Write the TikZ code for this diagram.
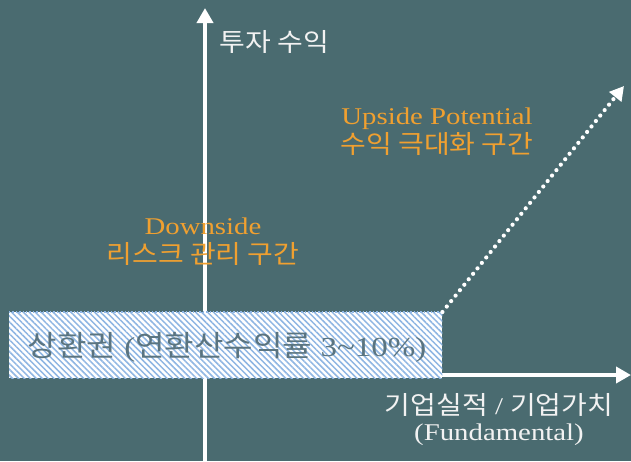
\documentclass[tikz,border=0pt]{standalone}
\usepackage{fontspec}
\setmainfont{Liberation Serif}[FakeStretch=1.2]
\newfontfamily\kr{Noto Sans CJK KR}[FakeStretch=1.1,Scale=1.06]
\usetikzlibrary{arrows.meta,patterns.meta}
\definecolor{bg}{HTML}{4A6B70}
\definecolor{orng}{HTML}{F0A030}
\definecolor{hatch}{HTML}{8FB6E3}
\definecolor{boxtxt}{HTML}{5A7480}
\definecolor{lbl}{HTML}{F2F2F2}
\tikzset{
  axis/.style={draw=white, line width=4pt, -{Triangle[length=15pt,width=16pt]}},
  dotarrow/.style={draw=white, line width=4.2pt, line cap=round, dash pattern=on 0pt off 7pt, -{Triangle[length=14pt,width=15pt]}},
  orlabel/.style={text=orng, align=center, font=\fontsize{24}{29}\selectfont},
  axlabel/.style={text=lbl, align=center, font=\fontsize{24}{26}\selectfont},
}
\begin{document}
\begin{tikzpicture}[x=1pt,y=-1pt]
\fill[bg] (0,0) rectangle (631,461);
\useasboundingbox (0,0) rectangle (631,461);
% axes
\coordinate (vb) at (205,461);
\coordinate (vt) at (205,8);
\coordinate (hl) at (10,375);
\coordinate (hr) at (631,375);
\draw[axis] (vb) -- (vt);
\draw[axis] (hl) -- (hr);
% hatched box
\node[anchor=north west, minimum width=433pt, minimum height=66pt, inner sep=0pt, fill=white] (box) at (9,312) {};
\fill[pattern={Lines[angle=-45,distance=4.2pt,line width=1.5pt]}, pattern color=hatch] (box.north west) rectangle (box.south east);
\draw[hatch, line width=1.4pt, dotted] (box.north west) -- (box.north east);
\node[text=boxtxt, font=\fontsize{27.5}{30}\selectfont, anchor=west] (boxlbl) at (24,347) {{\kr 상환권} ({\kr 연환산수익률} 3\textasciitilde 10\%)};
% dotted arrow
\coordinate (dend) at (624,86);
\draw[dotarrow] (box.north east) -- (dend);
% labels
\node[axlabel, anchor=west] (ylbl) at (216,42) {\kr 투자 수익};
\node[orlabel] (up) at (437,132) {Upside Potential\\{\kr 수익 극대화 구간}};
\node[orlabel] (down) at (203,242) {Downside\\{\kr 리스크 관리 구간}};
\node[axlabel] (xlbl) at (499,420) {{\kr 기업실적} / {\kr 기업가치}\\(Fundamental)};
\end{tikzpicture}
\end{document}
